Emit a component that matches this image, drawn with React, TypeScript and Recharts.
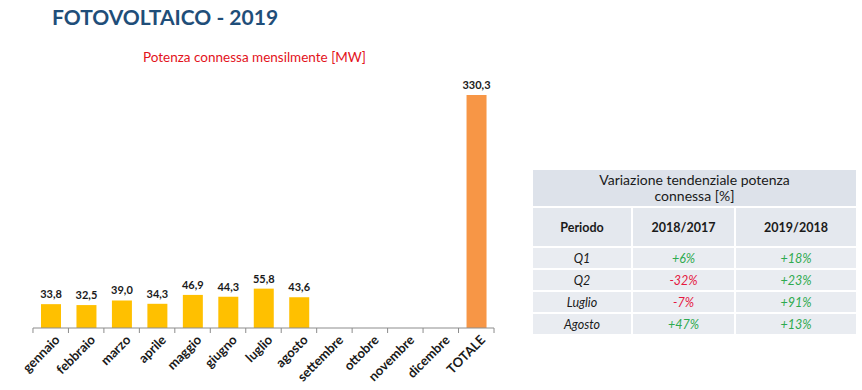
import React from 'react';
import { BarChart, Bar, XAxis, YAxis, Cell, LabelList } from 'recharts';

const MONTHS = [
  'gennaio', 'febbraio', 'marzo', 'aprile', 'maggio', 'giugno', 'luglio',
  'agosto', 'settembre', 'ottobre', 'novembre', 'dicembre', 'TOTALE',
];
// potenza connessa mensilmente [MW], mesi non ancora disponibili = null
const POWER_MW: (number | null)[] = [33.8, 32.5, 39.0, 34.3, 46.9, 44.3, 55.8, 43.6, null, null, null, null, 330.3];

const PERIODS = ['Q1', 'Q2', 'Luglio', 'Agosto'];
const VAR_2018_2017 = ['+6%', '-32%', '-7%', '+47%'];
const VAR_2019_2018 = ['+18%', '+23%', '+91%', '+13%'];

const FONT = 'Lato, "Open Sans", sans-serif';
const BAR_COLOR = '#FFC000';
const TOTAL_COLOR = '#F79646';

const data = MONTHS.map((m, i) => ({ name: m, value: POWER_MW[i] }));

const fmt = (v: number) => v.toFixed(1).replace('.', ',');

const MonthTick = (props: any) => {
  const { x, y, payload, index } = props;
  const band = 35.5;
  const axisY = y - 8;
  return (
    <g>
      <line x1={x - band / 2} x2={x - band / 2} y1={axisY} y2={axisY + 5} stroke="#8c8c8c" />
      {index === MONTHS.length - 1 && (
        <line x1={x + band / 2} x2={x + band / 2} y1={axisY} y2={axisY + 5} stroke="#8c8c8c" />
      )}
      <g transform={`translate(${x + 7},${y + 2})`}>
        <text
          x={0}
          y={0}
          dy={4}
          textAnchor="end"
          transform="rotate(-45)"
          fontSize={13}
          fontWeight={700}
          fill="#1a1a1a"
          fontFamily={FONT}
        >
          {payload.value}
        </text>
      </g>
    </g>
  );
};

const ValueLabel = (props: any) => {
  const { x, y, width, value } = props;
  if (value === null || value === undefined) return null;
  return (
    <text
      x={x + width / 2}
      y={y - 6}
      textAnchor="middle"
      fontSize={11}
      fontWeight={700}
      fill="#1a1a1a"
      fontFamily={FONT}
    >
      {fmt(value)}
    </text>
  );
};

const cell: React.CSSProperties = {
  borderRight: '2px solid #fff',
  borderBottom: '2px solid #fff',
  textAlign: 'center',
  padding: 0,
};

const pctColor = (s: string) => (s.startsWith('-') ? '#E5173F' : '#2EAA4F');

export default function App() {
  return (
    <div
      style={{
        position: 'absolute',
        left: 0,
        top: 0,
        width: 862,
        height: 390,
        background: '#fff',
        fontFamily: FONT,
        overflow: 'hidden',
      }}
    >
      <div
        style={{
          position: 'absolute',
          left: 52,
          top: 4,
          fontSize: 21,
          fontWeight: 700,
          color: '#1F4E79',
          whiteSpace: 'nowrap',
        }}
      >
        FOTOVOLTAICO - 2019
      </div>
      <div
        style={{
          position: 'absolute',
          left: 143,
          top: 49,
          fontSize: 13.5,
          color: '#E3121B',
          whiteSpace: 'nowrap',
        }}
      >
        Potenza connessa mensilmente [MW]
      </div>

      <div style={{ position: 'absolute', left: 0, top: 0 }}>
        <BarChart
          width={510}
          height={390}
          data={data}
          margin={{ top: 74, right: 16, bottom: 0, left: 33 }}
          barSize={20}
        >
          <XAxis
            dataKey="name"
            interval={0}
            height={62}
            axisLine={{ stroke: '#8c8c8c' }}
            tickLine={false}
            tick={<MonthTick />}
          />
          <YAxis hide domain={[0, 360]} />
          <Bar dataKey="value" isAnimationActive={false}>
            {data.map((d, i) => (
              <Cell key={d.name} fill={i === MONTHS.length - 1 ? TOTAL_COLOR : BAR_COLOR} />
            ))}
            <LabelList dataKey="value" content={<ValueLabel />} />
          </Bar>
        </BarChart>
      </div>

      <table
        style={{
          position: 'absolute',
          left: 533,
          top: 170,
          width: 324,
          borderCollapse: 'collapse',
          tableLayout: 'fixed',
          color: '#1a1a1a',
          fontFamily: FONT,
        }}
      >
        <colgroup>
          <col style={{ width: 99 }} />
          <col style={{ width: 103 }} />
          <col style={{ width: 122 }} />
        </colgroup>
        <tbody>
          <tr style={{ height: 37, background: '#DDE2EA' }}>
            <td colSpan={3} style={{ ...cell, fontSize: 14, lineHeight: '16px' }}>
              Variazione tendenziale potenza
              <br />
              connessa [%]
            </td>
          </tr>
          <tr style={{ height: 40, background: '#E4E8EE' }}>
            <td style={{ ...cell, fontSize: 12.5, fontWeight: 700 }}>Periodo</td>
            <td style={{ ...cell, fontSize: 12.5, fontWeight: 700 }}>2018/2017</td>
            <td style={{ ...cell, fontSize: 12.5, fontWeight: 700 }}>2019/2018</td>
          </tr>
          {PERIODS.map((p, i) => (
            <tr key={p} style={{ height: 22, background: '#E9ECF1' }}>
              <td style={{ ...cell, fontSize: 12.5, fontStyle: 'italic' }}>{p}</td>
              <td style={{ ...cell, fontSize: 12.5, fontStyle: 'italic', color: pctColor(VAR_2018_2017[i]) }}>
                {VAR_2018_2017[i]}
              </td>
              <td style={{ ...cell, fontSize: 12.5, fontStyle: 'italic', color: pctColor(VAR_2019_2018[i]) }}>
                {VAR_2019_2018[i]}
              </td>
            </tr>
          ))}
        </tbody>
      </table>
    </div>
  );
}
